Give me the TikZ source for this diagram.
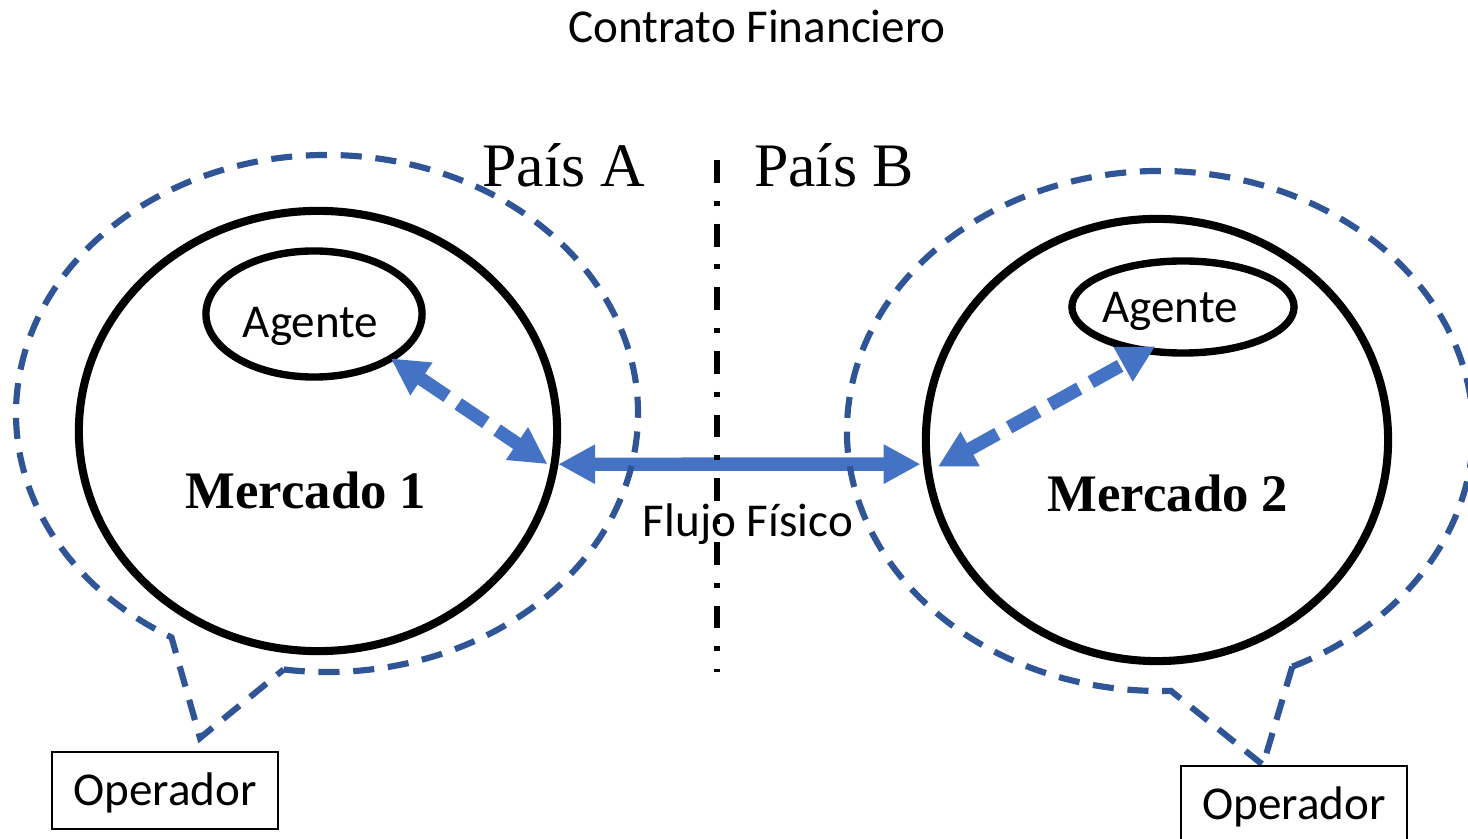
\documentclass[tikz,border=0pt]{standalone}
\usepackage{fontspec}
\setmainfont{Carlito}
\newfontfamily\tms{Liberation Serif}
\usetikzlibrary{arrows.meta,calc,shapes.geometric}
\definecolor{dkblue}{HTML}{2F5597}
\definecolor{arrblue}{HTML}{4472C4}
\begin{document}
\begin{tikzpicture}[x=0.01cm,y=0.01cm,
  calloutline/.style={draw=dkblue, line width=1.75pt, dash pattern=on 6pt off 3.9pt},
  ring/.style={ellipse, draw=black, line width=2.3pt, inner sep=0pt, outer sep=0pt},
  flow/.style={draw=arrblue, line width=3.8pt, <->, >={Triangle[length=10.5pt,width=10.5pt]}},
  flowdash/.style={flow, dash pattern=on 9.5pt off 3.8pt},
  sans/.style={font=\fontsize{13.4pt}{16pt}\selectfont, inner sep=0pt, anchor=base},
  pais/.style={font=\tms\fontsize{17.6pt}{21pt}\selectfont, inner sep=0pt, anchor=base},
  merc/.style={font=\tms\bfseries\fontsize{15pt}{18pt}\selectfont, inner sep=0pt, anchor=base},
  opbox/.style={draw=black, line width=0.55pt, inner sep=0pt, anchor=base,
    text height=0.54cm, text depth=0.23cm, minimum width=2.26cm,
    font=\fontsize{13.4pt}{16pt}\selectfont},
  divline/.style={draw=black, line width=1.8pt, dash pattern=on 6.5pt off 5.1pt on 1.4pt off 5.1pt}
]
\useasboundingbox (0,0) rectangle (1468,839);

% markets and agents
\node[ring, minimum width=4.78cm, minimum height=4.40cm] (m1) at (318,408) {};
\node[ring, minimum width=4.62cm, minimum height=4.42cm] (m2) at (1157,399) {};
\node[ring, line width=2.1pt, minimum width=2.16cm, minimum height=1.26cm] (a1) at (314,525) {};
\node[ring, line width=2.1pt, minimum width=2.22cm, minimum height=0.92cm] (a2) at (1183,532) {};

% flows
\draw[flowdash, shorten >=2.1pt] (a1.-30.5) -- (m1.-9);
\draw[flow, shorten <=1.1pt, shorten >=1.9pt] (m1.-8.5) -- (m2.186.5);
\draw[flowdash, shorten <=3.1pt, shorten >=-2.5pt] (m2.188) -- (a2.231.3);

% operator callouts
\draw[calloutline] (327,425.5) ++(262:311 and 258.5)
  arc[start angle=262, end angle=600, x radius=311, y radius=258.5] -- (200,101) -- cycle;
\draw[calloutline] (1160,408) ++(295:313 and 260)
  arc[start angle=295, end angle=632, x radius=313, y radius=260] -- (1263,74) -- cycle;

% border between countries
\coordinate (divtop) at (717,679);
\coordinate (divbot) at (717,167);
\draw[divline] (divtop) -- (divbot);

% texts
\node[sans] (title) at (757,796) {Contrato Financiero};
\node[pais] (pa) at (564,652) {País A};
\node[pais] (pb) at (834,652) {País B};
\node[sans] (t1) at (310.5,501) {Agente};
\node[sans] (t2) at (1170,516) {Agente};
\node[merc] (tm1) at (306,330) {Mercado 1};
\node[merc] (tm2) at (1168,327) {Mercado 2};
\node[sans] (ff) at (748,302) {Flujo Físico};
\node[opbox] (op1) at (165,33) {Operador};
\node[opbox] (op2) at (1294,19) {Operador};
\end{tikzpicture}
\end{document}
